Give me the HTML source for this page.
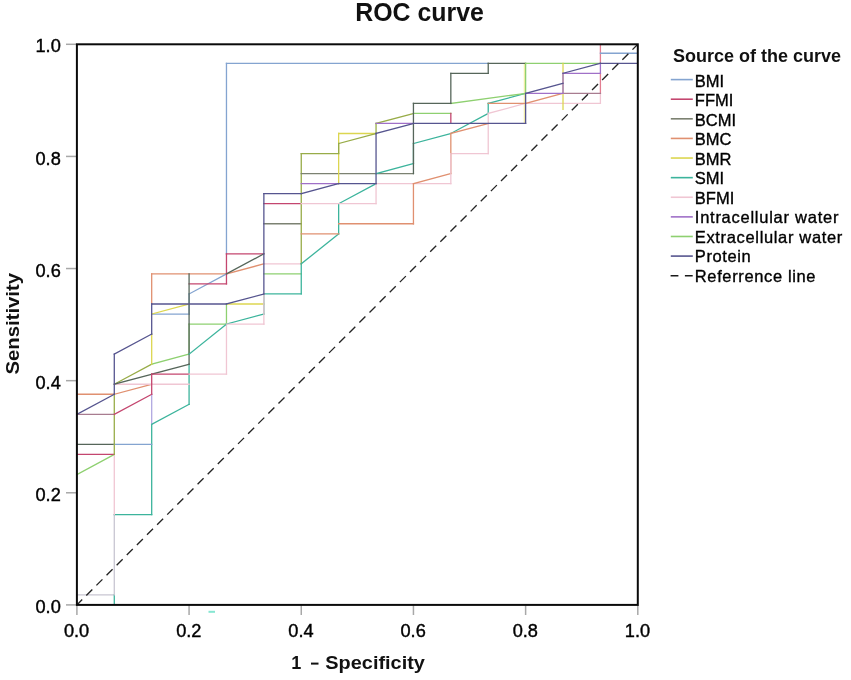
<!DOCTYPE html>
<html><head><meta charset="utf-8"><title>ROC curve</title>
<style>
html,body{margin:0;padding:0;background:#fff;}
body{width:851px;height:680px;overflow:hidden;}
svg{display:block;font-family:"Liberation Sans",sans-serif;will-change:transform;}
.t{font-size:18.2px;fill:#000;stroke:#000;stroke-width:0.4px;}
.lg text{font-size:16.5px;fill:#000;stroke:#000;stroke-width:0.35px;}
</style></head>
<body>
<svg width="851" height="680" viewBox="0 0 851 680">
<rect x="0" y="0" width="851" height="680" fill="#fff"/>
<text x="419.5" y="20.7" text-anchor="middle" font-weight="bold" font-size="24.9" fill="#111">ROC curve</text>
<g stroke="#a8a8a8" stroke-width="1.5">
<line x1="66" y1="604.90" x2="76.90" y2="604.90"/><line x1="76.90" y1="604.90" x2="76.90" y2="615"/><line x1="66" y1="492.78" x2="76.90" y2="492.78"/><line x1="189.08" y1="604.90" x2="189.08" y2="615"/><line x1="66" y1="380.66" x2="76.90" y2="380.66"/><line x1="301.26" y1="604.90" x2="301.26" y2="615"/><line x1="66" y1="268.54" x2="76.90" y2="268.54"/><line x1="413.44" y1="604.90" x2="413.44" y2="615"/><line x1="66" y1="156.42" x2="76.90" y2="156.42"/><line x1="525.62" y1="604.90" x2="525.62" y2="615"/><line x1="66" y1="44.30" x2="76.90" y2="44.30"/><line x1="637.80" y1="604.90" x2="637.80" y2="615"/>
</g>
<g class="t">
<text x="60.8" y="613.00" text-anchor="end">0.0</text><text x="76.60" y="636.5" text-anchor="middle">0.0</text><text x="60.8" y="500.88" text-anchor="end">0.2</text><text x="188.78" y="636.5" text-anchor="middle">0.2</text><text x="60.8" y="388.76" text-anchor="end">0.4</text><text x="300.96" y="636.5" text-anchor="middle">0.4</text><text x="60.8" y="276.64" text-anchor="end">0.6</text><text x="413.14" y="636.5" text-anchor="middle">0.6</text><text x="60.8" y="164.52" text-anchor="end">0.8</text><text x="525.32" y="636.5" text-anchor="middle">0.8</text><text x="60.8" y="52.40" text-anchor="end">1.0</text><text x="637.50" y="636.5" text-anchor="middle">1.0</text>
</g>
<defs><clipPath id="pc"><rect x="76.9" y="44.3" width="560.90" height="560.60"/></clipPath></defs>
<g fill="none" stroke-width="1.3" stroke-linecap="square" clip-path="url(#pc)">
<line x1="524.42" y1="123.46" x2="524.42" y2="63.28" stroke="#f2eea8"/><line x1="76.90" y1="594.87" x2="114.29" y2="594.87" stroke="#c8c6d2"/><line x1="114.29" y1="604.90" x2="114.29" y2="594.87" stroke="#3cb49c"/><line x1="114.29" y1="594.87" x2="114.29" y2="514.63" stroke="#c8c6d2"/><line x1="114.29" y1="514.63" x2="151.69" y2="514.63" stroke="#3cb49c"/><line x1="114.29" y1="514.63" x2="114.29" y2="454.45" stroke="#f0c6d3"/><line x1="151.69" y1="514.63" x2="151.69" y2="424.36" stroke="#3cb49c"/><line x1="76.90" y1="474.51" x2="114.29" y2="454.45" stroke="#8ed070"/><line x1="76.90" y1="454.45" x2="114.29" y2="454.45" stroke="#c4466f"/><line x1="76.90" y1="444.42" x2="114.29" y2="444.42" stroke="#56665a"/><line x1="114.29" y1="444.42" x2="151.69" y2="444.42" stroke="#84a4d0"/><line x1="114.29" y1="454.45" x2="114.29" y2="394.27" stroke="#98ac48"/><line x1="76.90" y1="414.33" x2="114.29" y2="414.33" stroke="#a87c90"/><line x1="76.90" y1="394.27" x2="114.29" y2="394.27" stroke="#e09070"/><line x1="114.29" y1="414.33" x2="151.69" y2="394.27" stroke="#c4466f"/><line x1="114.29" y1="394.27" x2="151.69" y2="384.24" stroke="#e09070"/><line x1="151.69" y1="424.36" x2="151.69" y2="394.27" stroke="#b0a8e0"/><line x1="151.69" y1="424.36" x2="189.08" y2="404.30" stroke="#3cb49c"/><line x1="189.08" y1="404.30" x2="189.08" y2="364.18" stroke="#3cb49c"/><line x1="114.29" y1="384.24" x2="189.08" y2="384.24" stroke="#f0c6d3"/><line x1="114.29" y1="384.24" x2="151.69" y2="364.18" stroke="#98ac48"/><line x1="151.69" y1="364.18" x2="189.08" y2="354.15" stroke="#8ed070"/><line x1="114.29" y1="384.24" x2="151.69" y2="374.21" stroke="#56665a"/><line x1="151.69" y1="374.21" x2="189.08" y2="364.18" stroke="#56665a"/><line x1="151.69" y1="394.27" x2="151.69" y2="374.21" stroke="#c4466f"/><line x1="151.69" y1="374.21" x2="189.08" y2="374.21" stroke="#c4466f"/><line x1="189.08" y1="374.21" x2="226.47" y2="374.21" stroke="#f0c6d3"/><line x1="226.47" y1="374.21" x2="226.47" y2="324.06" stroke="#f0c6d3"/><line x1="151.69" y1="364.18" x2="151.69" y2="334.09" stroke="#dcd650"/><line x1="151.69" y1="304.00" x2="151.69" y2="273.91" stroke="#e09070"/><line x1="151.69" y1="273.91" x2="226.47" y2="273.91" stroke="#e09070"/><line x1="226.47" y1="273.91" x2="263.87" y2="263.88" stroke="#e09070"/><line x1="151.69" y1="314.03" x2="189.08" y2="314.03" stroke="#84a4d0"/><line x1="189.08" y1="314.03" x2="189.08" y2="293.97" stroke="#84a4d0"/><line x1="189.08" y1="293.97" x2="226.47" y2="273.91" stroke="#84a4d0"/><line x1="226.47" y1="253.85" x2="226.47" y2="63.28" stroke="#84a4d0"/><line x1="226.47" y1="63.28" x2="488.23" y2="63.28" stroke="#84a4d0"/><line x1="151.69" y1="314.03" x2="189.08" y2="304.00" stroke="#dcd650"/><line x1="226.47" y1="304.00" x2="263.87" y2="304.00" stroke="#dcd650"/><line x1="189.08" y1="283.94" x2="226.47" y2="283.94" stroke="#c4466f"/><line x1="226.47" y1="283.94" x2="226.47" y2="253.85" stroke="#c4466f"/><line x1="226.47" y1="253.85" x2="263.87" y2="253.85" stroke="#c4466f"/><line x1="226.47" y1="273.91" x2="263.87" y2="253.85" stroke="#56665a"/><line x1="189.08" y1="354.15" x2="189.08" y2="324.06" stroke="#8ed070"/><line x1="189.08" y1="324.06" x2="226.47" y2="324.06" stroke="#8ed070"/><line x1="226.47" y1="324.06" x2="226.47" y2="304.00" stroke="#8ed070"/><line x1="189.08" y1="364.18" x2="189.08" y2="273.91" stroke="#56665a"/><line x1="189.08" y1="354.15" x2="226.47" y2="324.06" stroke="#3cb49c"/><line x1="226.47" y1="324.06" x2="263.87" y2="314.03" stroke="#3cb49c"/><line x1="263.87" y1="314.03" x2="263.87" y2="293.97" stroke="#3cb49c"/><line x1="263.87" y1="293.97" x2="301.26" y2="293.97" stroke="#3cb49c"/><line x1="226.47" y1="324.06" x2="263.87" y2="324.06" stroke="#f0c6d3"/><line x1="263.87" y1="324.06" x2="263.87" y2="293.97" stroke="#f0c6d3"/><line x1="263.87" y1="263.88" x2="301.26" y2="263.88" stroke="#f0c6d3"/><line x1="263.87" y1="273.91" x2="301.26" y2="273.91" stroke="#8ed070"/><line x1="263.87" y1="203.70" x2="301.26" y2="203.70" stroke="#c4466f"/><line x1="263.87" y1="223.76" x2="301.26" y2="223.76" stroke="#7c8272"/><line x1="301.26" y1="293.97" x2="301.26" y2="263.88" stroke="#3cb49c"/><line x1="301.26" y1="263.88" x2="301.26" y2="153.55" stroke="#98ac48"/><line x1="301.26" y1="153.55" x2="338.65" y2="153.55" stroke="#98ac48"/><line x1="301.26" y1="173.61" x2="413.44" y2="173.61" stroke="#7c8272"/><line x1="301.26" y1="183.64" x2="338.65" y2="183.64" stroke="#a070c8"/><line x1="301.26" y1="263.88" x2="338.65" y2="233.79" stroke="#3cb49c"/><line x1="338.65" y1="233.79" x2="338.65" y2="203.70" stroke="#3cb49c"/><line x1="338.65" y1="203.70" x2="376.05" y2="183.64" stroke="#3cb49c"/><line x1="376.05" y1="173.61" x2="413.44" y2="163.58" stroke="#3cb49c"/><line x1="413.44" y1="163.58" x2="413.44" y2="143.52" stroke="#3cb49c"/><line x1="413.44" y1="143.52" x2="450.83" y2="133.49" stroke="#3cb49c"/><line x1="450.83" y1="133.49" x2="488.23" y2="113.43" stroke="#3cb49c"/><line x1="488.23" y1="113.43" x2="488.23" y2="103.40" stroke="#3cb49c"/><line x1="488.23" y1="103.40" x2="525.62" y2="93.37" stroke="#3cb49c"/><line x1="301.26" y1="203.70" x2="376.05" y2="203.70" stroke="#f0c6d3"/><line x1="376.05" y1="203.70" x2="376.05" y2="183.64" stroke="#f0c6d3"/><line x1="376.05" y1="183.64" x2="450.83" y2="183.64" stroke="#f0c6d3"/><line x1="450.83" y1="153.55" x2="488.23" y2="153.55" stroke="#f0c6d3"/><line x1="488.23" y1="153.55" x2="488.23" y2="113.43" stroke="#f0c6d3"/><line x1="488.23" y1="113.43" x2="525.62" y2="103.40" stroke="#f0c6d3"/><line x1="525.62" y1="103.40" x2="600.41" y2="103.40" stroke="#f0c6d3"/><line x1="600.41" y1="103.40" x2="600.41" y2="93.37" stroke="#f0c6d3"/><line x1="600.41" y1="93.37" x2="600.41" y2="73.31" stroke="#e27d90"/><line x1="600.41" y1="63.28" x2="600.41" y2="43.22" stroke="#e27d90"/><line x1="301.26" y1="233.79" x2="338.65" y2="233.79" stroke="#e09070"/><line x1="338.65" y1="223.76" x2="413.44" y2="223.76" stroke="#e09070"/><line x1="413.44" y1="223.76" x2="413.44" y2="183.64" stroke="#e09070"/><line x1="413.44" y1="183.64" x2="450.83" y2="173.61" stroke="#e09070"/><line x1="450.83" y1="173.61" x2="450.83" y2="133.49" stroke="#e09070"/><line x1="450.83" y1="133.49" x2="488.23" y2="123.46" stroke="#e09070"/><line x1="450.83" y1="183.64" x2="450.83" y2="153.55" stroke="#f0c6d3"/><line x1="488.23" y1="103.40" x2="525.62" y2="103.40" stroke="#e09070"/><line x1="525.62" y1="103.40" x2="563.01" y2="93.37" stroke="#e09070"/><line x1="563.01" y1="93.37" x2="600.41" y2="93.37" stroke="#a87c90"/><line x1="338.65" y1="183.64" x2="338.65" y2="133.49" stroke="#dcd650"/><line x1="338.65" y1="133.49" x2="376.05" y2="133.49" stroke="#dcd650"/><line x1="338.65" y1="153.55" x2="338.65" y2="143.52" stroke="#98ac48"/><line x1="338.65" y1="143.52" x2="376.05" y2="133.49" stroke="#98ac48"/><line x1="376.05" y1="133.49" x2="376.05" y2="123.46" stroke="#98ac48"/><line x1="376.05" y1="123.46" x2="413.44" y2="113.43" stroke="#98ac48"/><line x1="376.05" y1="123.46" x2="413.44" y2="123.46" stroke="#a070c8"/><line x1="413.44" y1="113.43" x2="450.83" y2="113.43" stroke="#8ed070"/><line x1="450.83" y1="103.40" x2="525.62" y2="93.37" stroke="#8ed070"/><line x1="525.62" y1="93.37" x2="525.62" y2="63.28" stroke="#8ed070"/><line x1="488.23" y1="63.28" x2="525.62" y2="63.28" stroke="#56665a"/><line x1="525.62" y1="63.28" x2="600.41" y2="63.28" stroke="#8ed070"/><line x1="413.44" y1="173.61" x2="413.44" y2="103.40" stroke="#56665a"/><line x1="413.44" y1="103.40" x2="450.83" y2="103.40" stroke="#56665a"/><line x1="450.83" y1="103.40" x2="450.83" y2="73.31" stroke="#56665a"/><line x1="450.83" y1="73.31" x2="488.23" y2="73.31" stroke="#56665a"/><line x1="488.23" y1="73.31" x2="488.23" y2="63.28" stroke="#56665a"/><line x1="450.83" y1="123.46" x2="450.83" y2="113.43" stroke="#c4466f"/><line x1="563.01" y1="109.42" x2="563.01" y2="63.28" stroke="#dcd650"/><line x1="525.62" y1="93.37" x2="563.01" y2="93.37" stroke="#a070c8"/><line x1="563.01" y1="93.37" x2="563.01" y2="73.31" stroke="#a070c8"/><line x1="563.01" y1="73.31" x2="600.41" y2="73.31" stroke="#a070c8"/><line x1="600.41" y1="73.31" x2="600.41" y2="63.28" stroke="#a070c8"/><line x1="76.90" y1="414.33" x2="114.29" y2="394.27" stroke="#56558f"/><line x1="114.29" y1="394.27" x2="114.29" y2="354.15" stroke="#56558f"/><line x1="114.29" y1="354.15" x2="151.69" y2="334.09" stroke="#56558f"/><line x1="151.69" y1="334.09" x2="151.69" y2="304.00" stroke="#56558f"/><line x1="151.69" y1="304.00" x2="226.47" y2="304.00" stroke="#56558f"/><line x1="226.47" y1="304.00" x2="263.87" y2="293.97" stroke="#56558f"/><line x1="263.87" y1="293.97" x2="263.87" y2="193.67" stroke="#56558f"/><line x1="263.87" y1="193.67" x2="301.26" y2="193.67" stroke="#56558f"/><line x1="301.26" y1="193.67" x2="338.65" y2="183.64" stroke="#56558f"/><line x1="338.65" y1="183.64" x2="376.05" y2="183.64" stroke="#56558f"/><line x1="376.05" y1="183.64" x2="376.05" y2="133.49" stroke="#56558f"/><line x1="376.05" y1="133.49" x2="413.44" y2="123.46" stroke="#56558f"/><line x1="413.44" y1="123.46" x2="525.62" y2="123.46" stroke="#56558f"/><line x1="525.62" y1="123.46" x2="525.62" y2="93.37" stroke="#56558f"/><line x1="525.62" y1="93.37" x2="563.01" y2="83.34" stroke="#56558f"/><line x1="563.01" y1="73.31" x2="600.41" y2="63.28" stroke="#56558f"/><line x1="600.41" y1="63.28" x2="637.80" y2="63.28" stroke="#56558f"/><line x1="600.41" y1="53.25" x2="637.80" y2="53.25" stroke="#84a4d0"/>
</g>
<line x1="76.9" y1="604.9" x2="637.8" y2="44.3" stroke="#252525" stroke-width="1.35" stroke-dasharray="8.5 5.8" stroke-dashoffset="1"/>
<rect x="76.9" y="44.3" width="560.90" height="560.60" fill="none" stroke="#0a0a0a" stroke-width="2"/>
<rect x="208.5" y="610.8" width="6.5" height="2" fill="#86e6d2"/>
<text x="291.2" y="669" font-weight="bold" font-size="18" fill="#111">1</text>
<rect x="311" y="662.6" width="7.5" height="2" fill="#111"/>
<text x="325.3" y="669" font-weight="bold" font-size="18" fill="#111" textLength="99.6" lengthAdjust="spacingAndGlyphs">Specificity</text>
<text transform="translate(18.5,374.5) rotate(-90)" font-weight="bold" font-size="18" fill="#111" textLength="101.5" lengthAdjust="spacingAndGlyphs">Sensitivity</text>
<text x="673" y="61.8" font-weight="bold" font-size="18" fill="#111">Source of the curve</text>
<g class="lg">
<line x1="670.8" y1="79.60" x2="692.8" y2="79.60" stroke="#84a4d0" stroke-width="1.6"/><text x="694.8" y="86.80">BMI</text><line x1="670.8" y1="99.21" x2="692.8" y2="99.21" stroke="#c4466f" stroke-width="1.6"/><text x="694.8" y="106.29">FFMI</text><line x1="670.8" y1="118.82" x2="692.8" y2="118.82" stroke="#7c8272" stroke-width="1.6"/><text x="694.8" y="125.78">BCMI</text><line x1="670.8" y1="138.43" x2="692.8" y2="138.43" stroke="#e09070" stroke-width="1.6"/><text x="694.8" y="145.27">BMC</text><line x1="670.8" y1="158.04" x2="692.8" y2="158.04" stroke="#dcd650" stroke-width="1.6"/><text x="694.8" y="164.76">BMR</text><line x1="670.8" y1="177.65" x2="692.8" y2="177.65" stroke="#3cb49c" stroke-width="1.6"/><text x="694.8" y="184.25">SMI</text><line x1="670.8" y1="197.26" x2="692.8" y2="197.26" stroke="#f0c6d3" stroke-width="1.6"/><text x="694.8" y="203.74">BFMI</text><line x1="670.8" y1="216.87" x2="692.8" y2="216.87" stroke="#a070c8" stroke-width="1.6"/><text x="694.8" y="223.23" textLength="143.6">Intracellular water</text><line x1="670.8" y1="236.48" x2="692.8" y2="236.48" stroke="#8ed070" stroke-width="1.6"/><text x="694.8" y="242.72" textLength="147.5">Extracellular water</text><line x1="670.8" y1="256.09" x2="692.8" y2="256.09" stroke="#56558f" stroke-width="1.6"/><text x="694.8" y="262.21" textLength="55.8">Protein</text><line x1="670.6" y1="275.70" x2="692.8" y2="275.70" stroke="#1a1a1a" stroke-width="1.6" stroke-dasharray="7.8 6.5"/><text x="694.8" y="281.70" textLength="120.7">Referrence line</text>
</g>
</svg>
</body></html>
